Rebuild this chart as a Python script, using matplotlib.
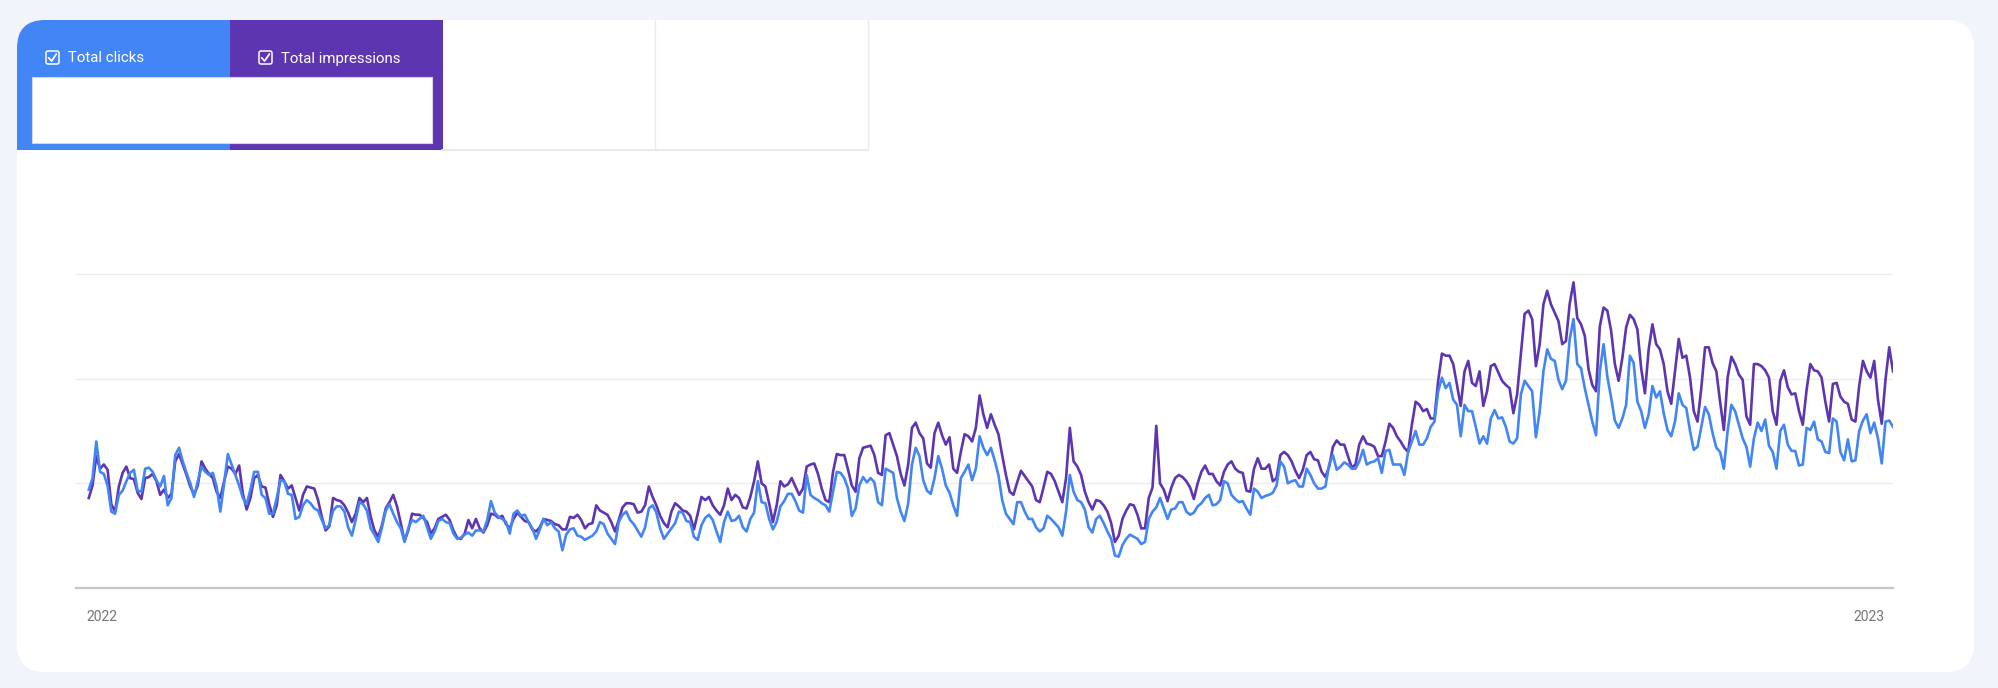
import matplotlib
matplotlib.use("Agg")
import matplotlib.pyplot as plt
from matplotlib.patches import FancyBboxPatch, Rectangle
import numpy as np

plt.rcParams["font.family"] = ["Roboto", "DejaVu Sans"]

# Daily values (gridlines at 100 / 200 / 300)
clicks = [
    94, 105, 140, 111, 109, 98, 73, 71, 89, 93,
    102, 110, 113, 93, 92, 114, 115, 111, 103, 97,
    107, 79, 86, 127, 134, 121, 110, 100, 87, 102,
    116, 111, 108, 110, 97, 73, 100, 128, 118, 108,
    98, 86, 80, 94, 111, 111, 89, 86, 71, 71,
    86, 103, 102, 90, 89, 66, 68, 79,
    84, 81, 76, 74, 65, 57, 60, 74, 78, 78,
    73, 58, 50, 65, 82, 80, 74, 57, 51, 44,
    58, 74, 80, 71, 63, 57, 44, 57, 65, 63,
    66, 69, 58, 47, 54, 64, 66, 63, 62, 52,
    47, 48, 51, 53, 50, 55, 55, 54, 65, 83,
    72, 68, 66, 63, 52, 71, 74, 69, 70, 63,
    57,
    47, 56, 66, 60, 63, 57, 54, 36, 51, 56,
    57, 50, 49, 46, 48, 50, 54, 63, 61, 52,
    47, 42, 63, 70, 73, 65, 61, 55, 49, 58,
    76, 79, 72, 57, 47, 52, 57, 62, 73, 72,
    64, 63, 49, 46, 60, 67, 70, 65, 54, 44,
    63, 73, 64, 65, 69, 58, 54, 66, 72, 102,
    82,
    81, 66, 56, 63, 78, 83, 90, 90, 83, 74,
    72, 108, 89, 86, 84, 81, 79, 73, 92, 111,
    110, 105, 95, 69, 76, 98, 106, 101, 105, 101,
    82, 79, 114, 112, 110, 86, 73, 64, 81, 118,
    134, 126, 103, 93, 90, 105, 126, 114, 98, 91,
    79, 69, 105, 111, 118, 103, 114, 145, 134, 127,
    134, 122,
    108, 84, 71, 66, 61, 82, 82, 73, 66, 66,
    58, 54, 57, 69, 66, 62, 58, 50, 73, 108,
    92, 84, 82, 75, 58, 53, 66, 69, 62, 54,
    47, 31, 30, 41, 47, 51, 49, 47, 42, 44,
    66, 73, 77, 86, 76, 66, 75, 76, 82, 82,
    73, 70, 72, 78, 81, 86, 89, 79, 80, 84,
    102,
    100, 89, 85, 82, 83, 76, 70, 95, 92, 86,
    88, 89, 91, 98, 121, 116, 100, 102, 103, 97,
    97, 114, 108, 100, 95, 95, 97, 118, 127, 113,
    116, 120, 118, 114, 114, 121, 132, 118, 120, 121,
    124, 110, 131, 132, 118, 118, 118, 108, 130, 140,
    150, 137, 137, 143, 154, 159, 188, 201, 191, 196,
    180,
    175, 145, 175, 169, 169, 154, 138, 145, 138, 162,
    170, 162, 163, 154, 140, 138, 143, 185, 198, 193,
    188, 144, 169, 207, 228, 219, 217, 199, 190, 198,
    238, 257, 214, 210, 191, 175, 159, 146, 207, 233,
    202, 182, 160, 153, 162, 175, 222, 215, 178, 169,
    153, 166, 193, 182, 188, 167, 151, 145, 159, 186,
    175,
    172, 150, 132, 135, 154, 173, 166, 148, 134, 130,
    114, 150, 175, 169, 156, 143, 135, 116, 143, 158,
    150, 161, 136, 130, 114, 150, 156, 137, 131, 131,
    117, 118, 153, 151, 159, 142, 140, 130, 129, 162,
    159, 130, 122, 142, 121, 122, 150, 160, 166, 148,
    158, 143, 119, 159, 160, 154,
]

impressions = [
    86, 98, 126, 114, 118, 113, 80, 73, 97, 110,
    116, 105, 104, 91, 85, 105, 106, 109, 102, 89,
    94, 86, 90, 121, 128, 118, 108, 97, 89, 98,
    121, 114, 109, 105, 92, 86, 102, 116, 114, 109,
    117, 90, 75, 86, 105, 108, 97, 96, 80, 68,
    79, 108, 102, 95, 98, 86, 74, 89,
    97, 96, 95, 84, 68, 55, 59, 86, 84, 83,
    79, 72, 63, 71, 86, 82, 86, 68, 55, 49,
    60, 76, 82, 89, 78, 62, 45, 55, 71, 70,
    70, 67, 63, 52, 57, 66, 68, 70, 65, 55,
    48, 47, 52, 65, 57, 66, 57, 53, 60, 71,
    70, 67, 69, 61, 57, 66, 72, 68, 64, 63,
    56,
    54, 58, 66, 65, 64, 61, 60, 56, 56, 68,
    67, 70, 65, 57, 61, 62, 79, 74, 72, 70,
    63, 54, 65, 77, 81, 81, 80, 72, 73, 79,
    97, 87, 79, 69, 62, 58, 73, 81, 78, 74,
    73, 69, 56, 71, 87, 84, 87, 79, 74, 70,
    79, 95, 84, 89, 86, 77, 76, 87, 102, 121,
    100,
    97, 81, 63, 79, 102, 97, 99, 105, 97, 89,
    95, 116, 118, 119, 109, 95, 84, 82, 111, 128,
    127, 127, 113, 98, 92, 124, 134, 135, 136, 127,
    110, 108, 146, 148, 137, 126, 109, 98, 118, 153,
    158, 148, 143, 119, 115, 148, 158, 146, 137, 144,
    114, 110, 130, 147, 145, 140, 153, 184, 166, 153,
    166, 156,
    147, 127, 108, 92, 89, 101, 112, 107, 102, 97,
    84, 82, 96, 111, 109, 102, 92, 82, 105, 153,
    121, 116, 108, 92, 82, 75, 84, 83, 79, 73,
    62, 44, 50, 66, 74, 80, 79, 70, 57, 57,
    86, 96, 155, 100, 94, 83, 96, 105, 108, 106,
    102, 96, 85, 100, 111, 117, 109, 109, 102, 98,
    111,
    118, 121, 114, 111, 110, 93, 92, 114, 124, 114,
    114, 118, 102, 105, 127, 130, 127, 121, 112, 105,
    113, 127, 130, 123, 122, 111, 106, 116, 135, 141,
    137, 137, 126, 115, 118, 137, 145, 138, 137, 135,
    126, 126, 140, 157, 153, 145, 140, 134, 130, 156,
    178, 175, 169, 171, 162, 162, 198, 224, 222, 222,
    214,
    194, 174, 207, 217, 196, 193, 207, 174, 188, 212,
    214, 206, 198, 194, 191, 167, 185, 223, 262, 265,
    257, 212, 233, 271, 284, 271, 263, 255, 233, 236,
    272, 292, 258, 252, 241, 209, 194, 188, 250, 268,
    265, 246, 214, 198, 220, 249, 261, 257, 247, 210,
    186, 228, 252, 233, 228, 214, 188, 176, 207, 238,
    220,
    222, 201, 169, 159, 191, 230, 230, 215, 207, 178,
    151, 201, 221, 214, 204, 199, 164, 156, 214, 214,
    212, 208, 201, 169, 156, 198, 208, 192, 185, 186,
    169, 156, 189, 214, 208, 207, 201, 178, 159, 195,
    196, 183, 178, 176, 161, 159, 193, 217, 207, 201,
    217, 180, 157, 199, 230, 207,
]

series_names = ["Total clicks", "Total impressions"]
series_colors = ["#4285f4", "#5e35b1"]
year_labels = ["2022", "2023"]
year_positions = [3.5, 473.5]
grid_values = [100, 200, 300]

W, H = 1999, 688
fig = plt.figure(figsize=(W / 100, H / 100), dpi=100)
fig.patch.set_facecolor("#f1f4fb")

# page chrome drawn in pixel space
ui = fig.add_axes([0, 0, 1, 1])
ui.set_xlim(0, W)
ui.set_ylim(H, 0)
ui.axis("off")

card = FancyBboxPatch((17, 20), 1957, 652,
                      boxstyle="round,pad=0,rounding_size=28",
                      fc="white", ec="none")
ui.add_patch(card)

tab_w = 213
for i, (name, col) in enumerate(zip(series_names, series_colors)):
    x0 = 17 + i * tab_w
    tab = Rectangle((x0, 20), tab_w, 130, fc=col, ec="none")
    ui.add_patch(tab)
    tab.set_clip_path(card)
    # checkbox
    bx = x0 + 29
    ui.add_patch(FancyBboxPatch((bx, 51), 13, 13,
                                boxstyle="round,pad=0,rounding_size=2",
                                fc="none", ec="white", lw=1.1))
    ui.plot([bx + 2.7, bx + 5.6, bx + 10.4], [57.8, 61.0, 54.0],
            color="white", lw=1.3, solid_capstyle="round")
    ui.text(bx + 22, 58.5, name, color="white", fontsize=10.8,
            va="center", ha="left")

# empty tabs to the right
for xs in [655, 868]:
    ui.plot([xs, xs], [20, 150], color="#ebebeb", lw=1)
ui.plot([442, 868], [150, 150], color="#e6e6e6", lw=1.2)
ui.add_patch(Rectangle((32, 77), 400, 66, fc="white", ec="#d8d2ec", lw=0.8))

# chart
ax = fig.add_axes([76 / W, 1 - 588 / H, (1893 - 76) / W, (588 - 273) / H])
ax.set_facecolor("none")
days_i = np.arange(len(impressions))
days_c = np.arange(len(clicks))
ax.plot(days_i, impressions, color=series_colors[1], lw=1.9, zorder=3)
ax.plot(days_c, clicks, color=series_colors[0], lw=1.9, zorder=4)

ax.set_xlim(-3.4, len(clicks) - 1)
ax.set_ylim(0, 301)
ax.set_yticks(grid_values)
ax.yaxis.grid(True, color="#ececec", lw=1)
ax.tick_params(axis="y", length=0, labelleft=False)
ax.set_xticks(year_positions, year_labels)
ax.tick_params(axis="x", length=0, pad=16, labelsize=10, labelcolor="#757575")
for s in ["top", "left", "right"]:
    ax.spines[s].set_visible(False)
ax.spines["bottom"].set_color("#c4c4c4")
ax.spines["bottom"].set_linewidth(1.6)

fig.savefig("out.png", dpi=100, facecolor=fig.get_facecolor())
